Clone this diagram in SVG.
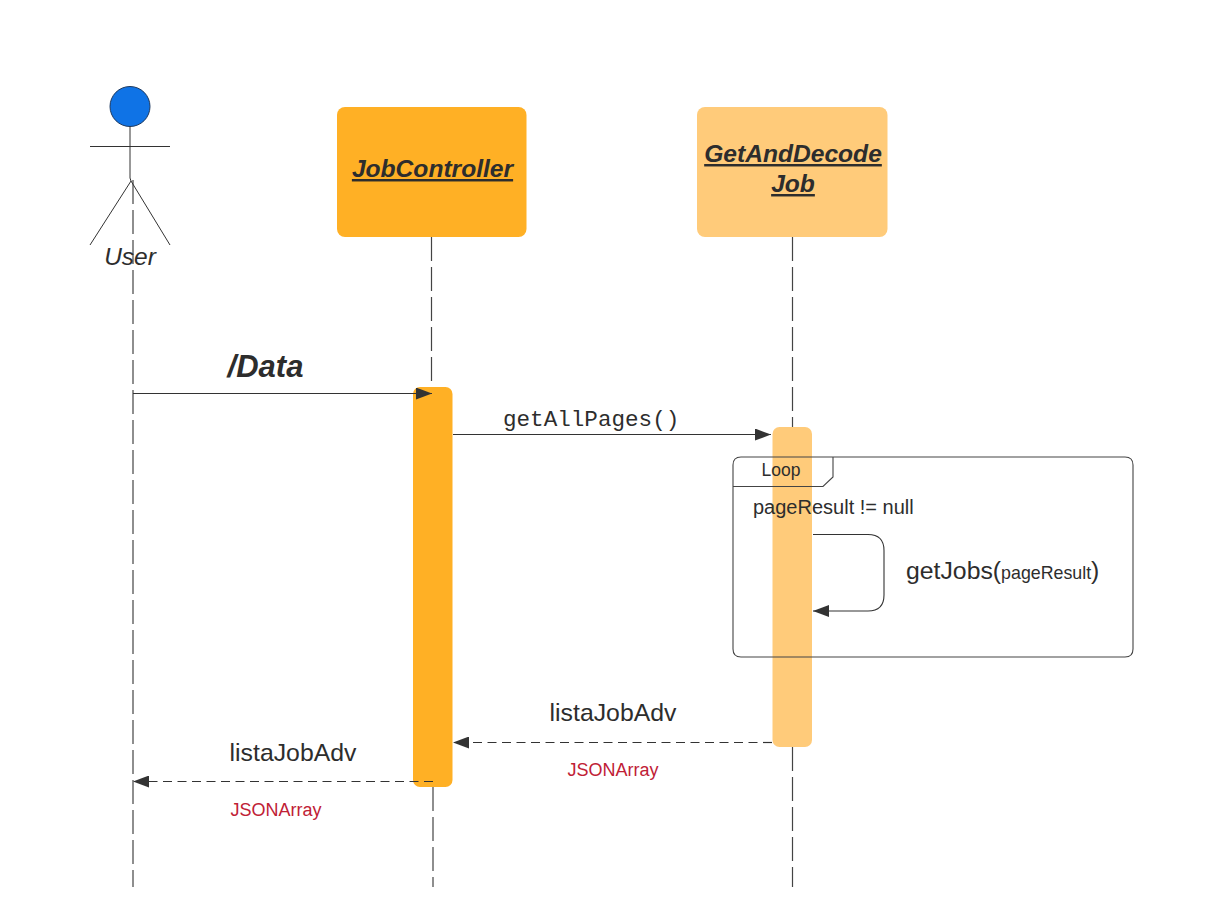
<svg xmlns="http://www.w3.org/2000/svg" width="1206" height="921" viewBox="0 0 1206 921">
<style>
text{font-family:"Liberation Sans",Arial,sans-serif;fill:#2d2d2d}
.life{stroke:#444;stroke-width:1.2;stroke-dasharray:24 6;fill:none}
.stick{stroke:#333;stroke-width:1;fill:none}
.msg{stroke:#333;stroke-width:1.1;fill:none}
.dash{stroke-dasharray:9 5.5;stroke-width:1.2}
.title{font-size:24.600px;font-weight:bold;font-style:italic;text-anchor:middle;text-decoration:underline}
.ret{font-size:24.800px}
.red{font-size:18px;fill:#c02035}
</style>
<defs>
<marker id="arrow" markerUnits="userSpaceOnUse" markerWidth="17" markerHeight="12" refX="16" refY="6" orient="auto"><path d="M0 0L16 6L0 12Z" fill="#333"/></marker>
</defs>
<rect width="1206" height="921" fill="#fff"/>
<g id="lifelines">
<path class="life" d="M133 180V887"/>
<path class="life" d="M431.500 237V387"/>
<path class="life" d="M433 787V887"/>
<path class="life" d="M792.500 237V427"/>
<path class="life" d="M792.500 747V887"/>
</g>
<g id="user">
<circle cx="130" cy="106.500" r="20" fill="#0f73e6" stroke="#1f3a5f" stroke-width="1"/>
<path class="stick" d="M90 146.500H170M130 126.500V178L131 181M131 181L90 245M131 181L170 245"/>
<text x="130" y="265" font-size="24.500" font-style="italic" text-anchor="middle">User</text>
</g>
<g id="job-controller">
<rect x="337" y="107" width="189.500" height="130" rx="8" fill="#ffb025"/>
<text class="title" x="432.500" y="177">JobController</text>
</g>
<g id="get-and-decode-job">
<rect x="697" y="107" width="190.500" height="130" rx="8" fill="#ffcb7a"/>
<text class="title" x="793" y="162">GetAndDecode</text>
<text class="title" x="793" y="192">Job</text>
</g>
<g id="activation-job-controller"><rect x="413" y="387" width="39.500" height="400" rx="7" fill="#ffb025"/></g>
<g id="activation-get-and-decode"><rect x="772.500" y="427" width="39.500" height="320" rx="7" fill="#ffcb7a"/></g>
<g id="loop">
<path d="M741 457H1125Q1133 457 1133 465V649Q1133 657 1125 657H741Q733 657 733 649V465Q733 457 741 457Z" fill="none" stroke="#444" stroke-width="1.100"/>
<path d="M833 457V477L823 486.500H733" fill="none" stroke="#444" stroke-width="1.100"/>
<text x="781" y="476" font-size="17.500" text-anchor="middle">Loop</text>
<text x="753" y="514" font-size="20">pageResult != null</text>
</g>
<g id="connectors">
<path class="msg" d="M133 393.500H432" marker-end="url(#arrow)"/>
<path class="msg" d="M453 434.500H771" marker-end="url(#arrow)"/>
<path class="msg" d="M813 534.500H868Q884 534.500 884 550.500V595Q884 611 868 611H813" marker-end="url(#arrow)"/>
<path class="msg dash" d="M772 742.500H453" marker-end="url(#arrow)"/>
<path class="msg dash" d="M433 781.500H133" marker-end="url(#arrow)"/>
</g>
<g id="labels">
<text x="265.500" y="377" font-size="31" font-weight="bold" font-style="italic" text-anchor="middle">/Data</text>
<text x="503" y="426" font-size="22.600" style="font-family:'Liberation Mono',monospace">getAllPages()</text>
<text x="906" y="579" font-size="24.800">getJobs(<tspan font-size="17.800">pageResult</tspan>)</text>
<text class="ret" x="613" y="721" text-anchor="middle">listaJobAdv</text>
<text class="red" x="613" y="776" text-anchor="middle">JSONArray</text>
<text class="ret" x="293" y="761" text-anchor="middle">listaJobAdv</text>
<text class="red" x="276" y="816" text-anchor="middle">JSONArray</text>
</g>
</svg>
